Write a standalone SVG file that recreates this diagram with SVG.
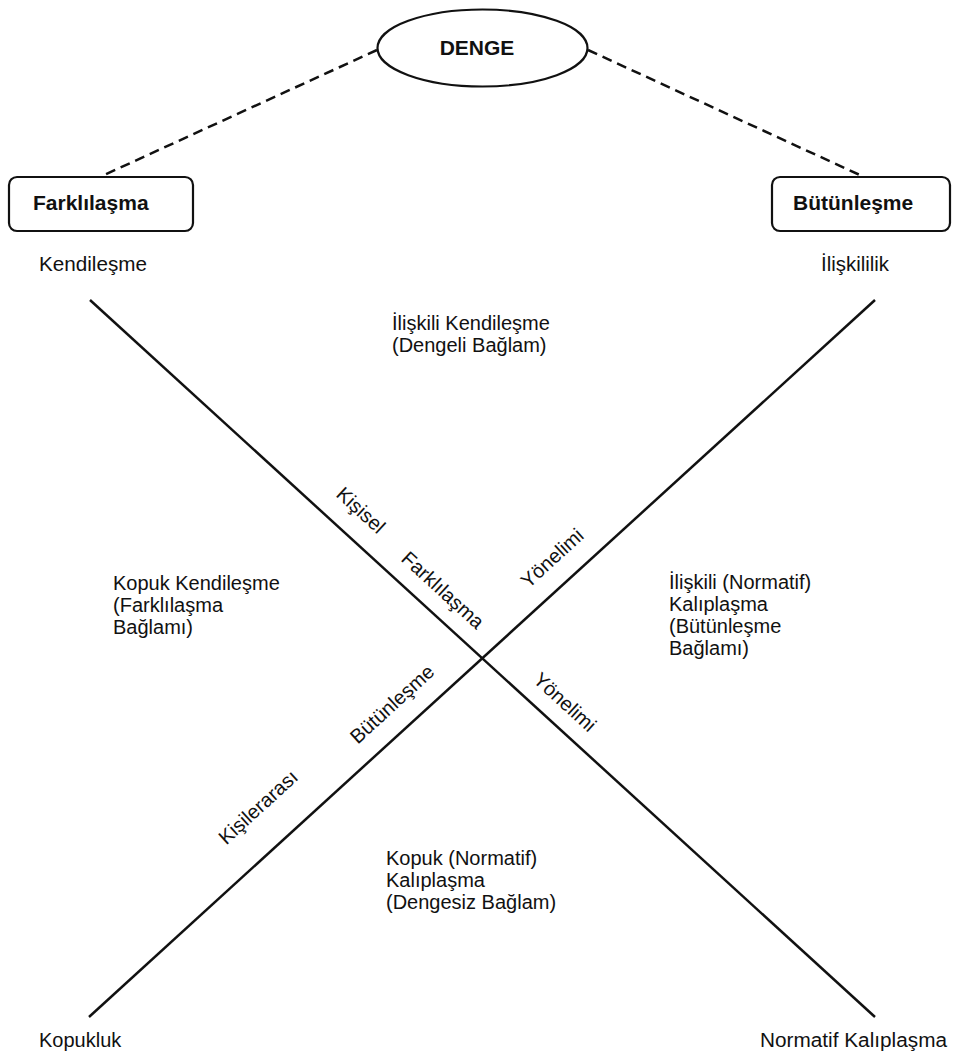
<svg xmlns="http://www.w3.org/2000/svg" width="953" height="1057" viewBox="0 0 953 1057">
<style>
text{font-family:"Liberation Sans",Arial,sans-serif;fill:#111;}
.b{font-weight:bold;font-size:21px;}
.t{font-size:20px;}
.r{font-size:20px;text-anchor:middle;}
.shape{fill:#fff;stroke:#111;stroke-width:2.2;}
.axis{stroke:#111;stroke-width:2.5;fill:none;}
.dash{stroke:#111;stroke-width:2.5;stroke-dasharray:10 6;fill:none;}
</style>
<rect width="953" height="1057" fill="#fff"/>
<g id="connectors">
<line class="dash" x1="377" y1="50" x2="102" y2="176"/>
<line class="dash" x1="588" y1="50" x2="862" y2="176"/>
<line class="axis" x1="90" y1="300" x2="875" y2="1017"/>
<line class="axis" x1="875" y1="300" x2="89" y2="1017"/>
</g>
<g id="denge">
<ellipse class="shape" cx="482.5" cy="48" rx="105" ry="38.5"/>
<text class="b" x="477" y="55" text-anchor="middle" font-size="22">DENGE</text>
</g>
<g id="farklilasma">
<rect class="shape" x="9" y="177" width="184" height="54" rx="8"/>
<text class="b" x="33" y="210">Farklılaşma</text>
</g>
<g id="butunlesme">
<rect class="shape" x="772" y="177" width="178" height="54" rx="8"/>
<text class="b" x="793" y="210">Bütünleşme</text>
</g>
<g id="kendilesme"><text class="t" x="39" y="271" textLength="108" lengthAdjust="spacingAndGlyphs">Kendileşme</text></g>
<g id="iliskililik"><text class="t" x="821" y="271" textLength="68" lengthAdjust="spacingAndGlyphs">İlişkililik</text></g>
<g id="kopukluk"><text class="t" x="39" y="1047" font-size="18">Kopukluk</text></g>
<g id="normatif-kaliplasma"><text class="t" x="760" y="1047" textLength="187" lengthAdjust="spacingAndGlyphs">Normatif Kalıplaşma</text></g>
<g id="q-top">
<text class="t" x="392" y="330">İlişkili Kendileşme</text>
<text class="t" x="392" y="352">(Dengeli Bağlam)</text>
</g>
<g id="q-left">
<text class="t" x="113" y="590">Kopuk Kendileşme</text>
<text class="t" x="113" y="612">(Farklılaşma</text>
<text class="t" x="113" y="634">Bağlamı)</text>
</g>
<g id="q-right">
<text class="t" x="669" y="589">İlişkili (Normatif)</text>
<text class="t" x="669" y="611">Kalıplaşma</text>
<text class="t" x="669" y="633">(Bütünleşme</text>
<text class="t" x="669" y="655">Bağlamı)</text>
</g>
<g id="q-bottom">
<text class="t" x="386" y="865">Kopuk (Normatif)</text>
<text class="t" x="386" y="887">Kalıplaşma</text>
<text class="t" x="386" y="909">(Dengesiz Bağlam)</text>
</g>
<g id="axis-labels">
<text class="r" transform="translate(361,510) rotate(42.4)" dy="0.35em">Kişisel</text>
<text class="r" transform="translate(443,590) rotate(42.4)" dy="0.35em">Farklılaşma</text>
<text class="r" transform="translate(565,702) rotate(42.4)" dy="0.35em">Yönelimi</text>
<text class="r" transform="translate(552,558) rotate(-42.4)" dy="0.35em">Yönelimi</text>
<text class="r" transform="translate(392,704) rotate(-42.4)" dy="0.35em">Bütünleşme</text>
<text class="r" transform="translate(258,807) rotate(-42.4)" dy="0.35em">Kişilerarası</text>
</g>
</svg>
